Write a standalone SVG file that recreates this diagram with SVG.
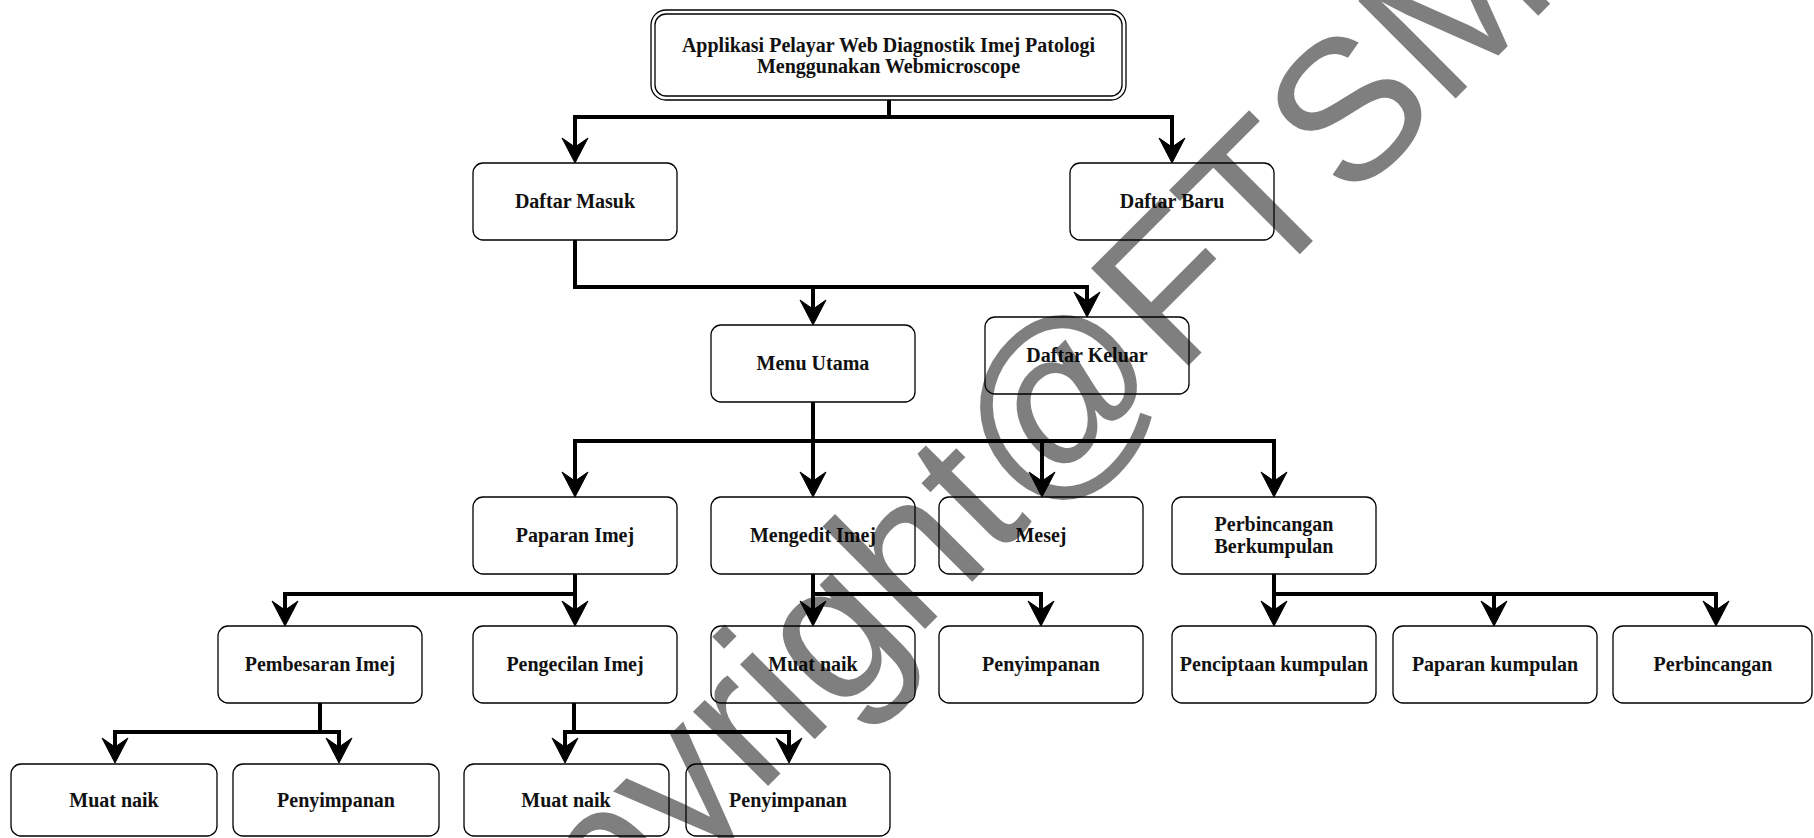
<svg xmlns="http://www.w3.org/2000/svg" width="1814" height="838" viewBox="0 0 1814 838">
<defs>
<style>
.box{fill:#fff;stroke:#000;stroke-width:1.3}
.lbl{font-family:"Liberation Serif","Times New Roman",serif;font-weight:bold;font-size:20px;fill:#111;text-anchor:middle}
.bar{fill:none;stroke:#000;stroke-width:4;stroke-linecap:square}
.drop{fill:none;stroke:#000;stroke-width:4;marker-end:url(#arr)}
.wm{font-family:"Liberation Sans",Arial,sans-serif;font-size:200px;fill:#000;fill-opacity:0.5}
</style>
<marker id="arr" markerUnits="userSpaceOnUse" viewBox="-27 -15 30 30" refX="-16" refY="0" markerWidth="30" markerHeight="30" orient="auto">
<path d="M0,0 L-25,-13 L-16,0 L-25,13 Z" fill="#000" stroke="#000" stroke-width="1" stroke-linejoin="miter"/>
</marker>
</defs>
<rect width="1814" height="838" fill="#fff"/>
<g id="connectors">
<path class="bar" d="M889,100 V117 M575,117 H1172"/>
<path class="drop" d="M575,117 V147"/>
<path class="drop" d="M1172,117 V147"/>
<path class="bar" d="M575,240 V287 H1087"/>
<path class="drop" d="M813,287 V309"/>
<path class="drop" d="M1087,287 V301"/>
<path class="bar" d="M813,402 V441 M575,441 H1274"/>
<path class="drop" d="M575,441 V481"/>
<path class="drop" d="M813,441 V481"/>
<path class="drop" d="M1042,441 V481"/>
<path class="drop" d="M1274,441 V481"/>
<path class="bar" d="M575,574 V594 H285"/>
<path class="drop" d="M285,594 V610"/>
<path class="drop" d="M575,594 V610"/>
<path class="bar" d="M813,574 V594 H1041"/>
<path class="drop" d="M813,594 V610"/>
<path class="drop" d="M1041,594 V610"/>
<path class="bar" d="M1274,574 V594 H1716"/>
<path class="drop" d="M1274,594 V610"/>
<path class="drop" d="M1494,594 V610"/>
<path class="drop" d="M1716,594 V610"/>
<path class="bar" d="M320,702 V732 M115,732 H339"/>
<path class="drop" d="M115,732 V747"/>
<path class="drop" d="M339,732 V747"/>
<path class="bar" d="M574,702 V732 M565,732 H789"/>
<path class="drop" d="M565,732 V747"/>
<path class="drop" d="M789,732 V747"/>
</g>
<g id="n-root">
<rect class="box" x="651" y="10" width="475" height="90" rx="15"/>
<rect class="box" x="655" y="14" width="467" height="82" rx="11"/>
<text class="lbl" x="888.5" y="52">Applikasi Pelayar Web Diagnostik Imej Patologi</text>
<text class="lbl" x="888.5" y="73">Menggunakan Webmicroscope</text>
</g>
<g id="n-daftar-masuk"><rect class="box" x="473" y="163" width="204" height="77" rx="10"/><text class="lbl" x="575" y="208">Daftar Masuk</text></g>
<g id="n-daftar-baru"><rect class="box" x="1070" y="163" width="204" height="77" rx="10"/><text class="lbl" x="1172" y="208">Daftar Baru</text></g>
<g id="n-menu-utama"><rect class="box" x="711" y="325" width="204" height="77" rx="10"/><text class="lbl" x="813" y="370">Menu Utama</text></g>
<g id="n-daftar-keluar"><rect class="box" x="985" y="317" width="204" height="77" rx="10"/><text class="lbl" x="1087" y="362">Daftar Keluar</text></g>
<g id="n-paparan-imej"><rect class="box" x="473" y="497" width="204" height="77" rx="10"/><text class="lbl" x="575" y="542">Paparan Imej</text></g>
<g id="n-mengedit-imej"><rect class="box" x="711" y="497" width="204" height="77" rx="10"/><text class="lbl" x="813" y="542">Mengedit Imej</text></g>
<g id="n-mesej"><rect class="box" x="939" y="497" width="204" height="77" rx="10"/><text class="lbl" x="1041" y="542">Mesej</text></g>
<g id="n-perbincangan-berkumpulan"><rect class="box" x="1172" y="497" width="204" height="77" rx="10"/><text class="lbl" x="1274" y="531">Perbincangan</text><text class="lbl" x="1274" y="553">Berkumpulan</text></g>
<g id="n-pembesaran-imej"><rect class="box" x="218" y="626" width="204" height="77" rx="10"/><text class="lbl" x="320" y="671">Pembesaran Imej</text></g>
<g id="n-pengecilan-imej"><rect class="box" x="473" y="626" width="204" height="77" rx="10"/><text class="lbl" x="575" y="671">Pengecilan Imej</text></g>
<g id="n-muat-naik-1"><rect class="box" x="711" y="626" width="204" height="77" rx="10"/><text class="lbl" x="813" y="671">Muat naik</text></g>
<g id="n-penyimpanan-1"><rect class="box" x="939" y="626" width="204" height="77" rx="10"/><text class="lbl" x="1041" y="671">Penyimpanan</text></g>
<g id="n-penciptaan-kumpulan"><rect class="box" x="1172" y="626" width="204" height="77" rx="10"/><text class="lbl" x="1274" y="671">Penciptaan kumpulan</text></g>
<g id="n-paparan-kumpulan"><rect class="box" x="1393" y="626" width="204" height="77" rx="10"/><text class="lbl" x="1495" y="671">Paparan kumpulan</text></g>
<g id="n-perbincangan"><rect class="box" x="1613" y="626" width="199" height="77" rx="10"/><text class="lbl" x="1713" y="671">Perbincangan</text></g>
<g id="n-muat-naik-2"><rect class="box" x="11" y="764" width="206" height="72" rx="10"/><text class="lbl" x="114" y="807">Muat naik</text></g>
<g id="n-penyimpanan-2"><rect class="box" x="233" y="764" width="206" height="72" rx="10"/><text class="lbl" x="336" y="807">Penyimpanan</text></g>
<g id="n-muat-naik-3"><rect class="box" x="464" y="764" width="205" height="72" rx="10"/><text class="lbl" x="566" y="807">Muat naik</text></g>
<g id="n-penyimpanan-3"><rect class="box" x="686" y="764" width="204" height="72" rx="10"/><text class="lbl" x="788" y="807">Penyimpanan</text></g>
<text class="wm" transform="translate(428,1126) rotate(-45)">Copyright@FTSM</text>
</svg>
